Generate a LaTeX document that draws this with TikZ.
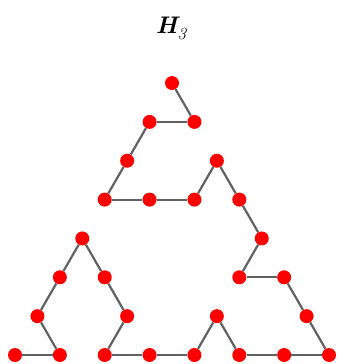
\documentclass[tikz,border=0pt]{standalone}
\usepackage{fontspec}
\tikzset{
  vtx/.style={circle, fill=red, inner sep=0pt, minimum size=14pt},
  edge/.style={draw=black!62, line width=2.2pt},
}
\begin{document}
\begin{tikzpicture}[x=1pt,y=-1pt]
\useasboundingbox (0,0) rectangle (338,364);
\node (title) at (171,28) {\fontsize{24}{28}\selectfont\bfseries\itshape H\raisebox{-6pt}{\fontsize{17}{17}\selectfont\mdseries 3}};
\begin{scope}[shift={(15,355)}, x=44.86pt, y=38.85pt]
\foreach \n/\i/\r in {1/3.5/7, 2/4/6, 3/3/6, 4/2.5/5, 5/2/4, 6/3/4, 7/4/4, 8/4.5/5, 9/5/4,
  10/5.5/3, 11/5/2, 12/6/2, 13/6.5/1, 14/7/0, 15/6/0, 16/5/0, 17/4.5/1, 18/4/0,
  19/3/0, 20/2/0, 21/2.5/1, 22/2/2, 23/1.5/3, 24/1/2, 25/0.5/1, 26/1/0, 27/0/0}
  \node[vtx] (v\n) at (\i,\r) {};
\foreach \a [evaluate=\a as \b using int(\a+1)] in {1,...,26}
  \draw[edge] (v\a) -- (v\b);
\end{scope}
\end{tikzpicture}
\end{document}
